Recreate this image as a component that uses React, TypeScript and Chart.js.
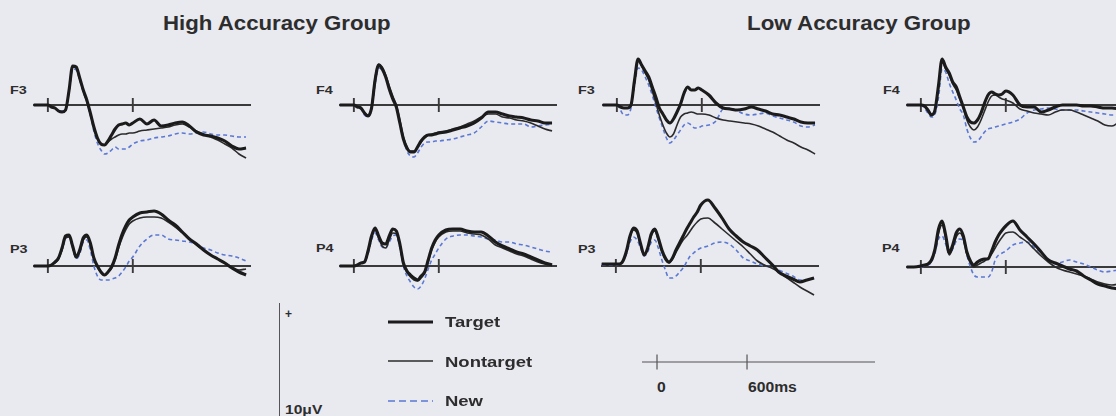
import React, { useEffect, useRef } from "react";
import { Chart, registerables } from "chart.js";
Chart.register(...registerables);

// ---------- data ----------
const timesMs = [-100, -50, 0, 25, 50, 75, 100, 125, 150, 175, 200, 225, 250, 275, 300, 325, 350, 375, 400, 425, 450, 475, 500, 525, 550, 575, 600, 650, 700, 750, 800, 850, 900, 950, 1000, 1050, 1100, 1150, 1200, 1250, 1300, 1350, 1400];
const markerTimes = [0, 600];
const groupTitles = ["High Accuracy Group", "Low Accuracy Group"];
const seriesNames = ["Target", "Nontarget", "New"];
const timeScaleLabels = ["0", "600ms"];
const voltLabel = "10μV";

// values in μV
const highF3Target = [0, 0, 0, -0.2, -0.3, -0.6, -0.7, -0.5, 1.5, 3.9, 3.8, 2.7, 1.5, 0.5, -0.8, -2.2, -3.3, -3.9, -4.0, -3.6, -3.0, -2.4, -2.0, -1.9, -1.8, -2.0, -1.8, -1.4, -1.9, -1.5, -2.1, -2.0, -1.8, -1.7, -2.1, -2.7, -3.0, -3.1, -3.3, -3.6, -4.1, -4.4, -4.3];
const highF3Nontarget = [0, 0, 0, -0.2, -0.3, -0.6, -0.7, -0.5, 1.4, 3.8, 3.7, 2.6, 1.4, 0.4, -0.9, -2.3, -3.4, -3.9, -4.0, -3.7, -3.4, -3.2, -3.0, -2.9, -2.9, -2.8, -2.8, -2.6, -2.5, -2.4, -2.3, -2.2, -2.0, -1.9, -2.2, -2.6, -2.9, -3.2, -3.5, -3.9, -4.3, -4.9, -5.3];
const highF3New = [0, 0, 0, -0.2, -0.3, -0.6, -0.6, -0.5, 1.3, 3.6, 3.5, 2.5, 1.3, 0.3, -1.0, -2.6, -3.8, -4.5, -4.9, -4.8, -4.5, -4.2, -4.4, -4.4, -4.4, -4.2, -3.9, -3.6, -3.5, -3.3, -3.2, -3.1, -2.9, -2.8, -2.9, -2.8, -2.7, -2.9, -3.0, -3.0, -3.1, -3.2, -3.2];

const highF4Target = [0, 0, 0, -0.2, -0.3, -0.8, -1.1, -0.3, 2.5, 4.0, 3.6, 2.8, 1.6, 0.6, -0.2, -1.8, -3.4, -4.3, -4.7, -4.7, -4.2, -3.6, -3.2, -3.0, -3.0, -2.9, -2.8, -2.7, -2.5, -2.3, -2.1, -1.8, -1.3, -0.7, -0.7, -0.9, -1.1, -1.2, -1.3, -1.5, -1.6, -1.8, -1.8];
const highF4Nontarget = [0, 0, 0, -0.2, -0.3, -0.8, -1.0, -0.2, 2.7, 4.1, 3.8, 3.0, 1.9, 0.9, 0.0, -1.5, -3.2, -4.2, -4.6, -4.6, -4.2, -3.7, -3.3, -3.0, -2.9, -2.8, -2.7, -2.6, -2.4, -2.2, -1.9, -1.6, -1.2, -0.9, -0.9, -1.2, -1.3, -1.5, -1.6, -1.8, -2.1, -2.4, -2.6];
const highF4New = [0, 0, 0, -0.3, -0.4, -1.0, -1.2, -0.5, 2.0, 3.7, 3.5, 2.8, 1.6, 0.6, -0.2, -1.8, -3.4, -4.6, -5.1, -5.2, -4.8, -4.2, -3.8, -3.7, -3.7, -3.6, -3.6, -3.5, -3.4, -3.2, -3.0, -2.8, -2.2, -1.6, -1.7, -1.8, -1.9, -1.9, -1.9, -2.2, -2.1, -2.0, -1.9];

const lowF3Target = [0, 0, 0, -0.2, -0.3, -0.3, 0.0, 2.5, 4.6, 4.0, 3.4, 2.8, 1.8, 0.8, -0.3, -0.9, -1.5, -1.8, -1.4, -0.7, 0.1, 1.2, 1.8, 1.5, 1.5, 1.7, 1.5, 1.0, 0.2, -0.3, -0.4, -0.5, -0.4, -0.2, -0.4, -0.6, -0.9, -1.0, -1.2, -1.4, -1.7, -1.8, -1.8];
const lowF3Nontarget = [0, 0, 0, -0.2, -0.3, -0.3, 0.0, 2.3, 4.5, 3.9, 3.2, 2.5, 1.4, 0.2, -1.0, -2.0, -2.8, -3.2, -2.9, -2.0, -1.2, -0.9, -0.8, -0.7, -0.8, -0.9, -0.9, -1.0, -1.3, -1.5, -1.6, -1.7, -1.8, -1.9, -2.1, -2.4, -2.7, -3.1, -3.5, -3.8, -4.2, -4.5, -4.9];
const lowF3New = [0, 0, 0, -0.5, -1.0, -1.0, -0.3, 2.0, 3.7, 3.5, 2.8, 2.0, 1.0, -0.2, -1.3, -2.3, -3.3, -3.8, -3.5, -3.0, -2.5, -2.0, -1.8, -2.0, -2.3, -2.3, -2.1, -2.0, -1.6, -0.4, -0.3, -0.6, -0.9, -1.0, -0.9, -0.8, -1.1, -1.3, -1.5, -1.7, -2.1, -2.2, -2.0];

const lowF4Target = [0, 0, 0, -0.1, -0.5, -1.0, -0.5, 2.0, 4.6, 3.8, 3.2, 2.3, 1.8, 0.8, -0.2, -1.2, -1.7, -1.8, -1.5, -0.8, 0.2, 1.0, 1.3, 1.1, 1.0, 1.1, 1.4, 1.0, 0.0, -0.2, -0.2, -0.7, -0.5, -0.2, 0.0, 0.0, 0.0, -0.1, -0.1, -0.2, -0.3, -0.3, -0.4];
const lowF4Nontarget = [0, 0, 0, -0.1, -0.5, -0.9, -0.5, 1.8, 4.3, 3.6, 3.0, 2.1, 1.5, 0.6, -0.3, -1.5, -2.2, -2.5, -2.2, -1.5, -0.6, 0.3, 0.9, 1.0, 0.8, 0.6, 0.5, 0.2, -0.4, -0.6, -0.8, -0.9, -1.0, -0.7, -0.5, -0.5, -0.7, -1.0, -1.3, -1.6, -2.0, -2.1, -1.7];
const lowF4New = [0, 0, 0, -0.3, -0.8, -1.2, -0.9, 0.8, 3.6, 3.3, 2.2, 1.3, 0.5, -0.4, -1.0, -2.4, -3.3, -3.7, -3.6, -3.2, -2.7, -2.4, -2.3, -2.2, -2.1, -2.0, -1.9, -1.7, -1.4, -0.8, -0.5, -0.4, -0.3, -0.4, -0.5, -0.5, -0.5, -0.6, -0.7, -0.8, -0.9, -1.0, -1.0];

const highP3Target = [0, 0, 0, 0.1, 0.4, 0.8, 1.8, 3.0, 3.1, 2.0, 0.9, 1.6, 2.8, 3.1, 2.3, 0.8, 0.0, -0.6, -0.9, -0.6, -0.1, 0.8, 2.1, 3.2, 4.0, 4.6, 4.9, 5.3, 5.4, 5.5, 5.2, 4.6, 4.1, 3.4, 2.7, 2.2, 1.6, 1.1, 0.7, 0.3, -0.2, -0.6, -0.9];
const highP3Nontarget = [0, 0, 0, 0.1, 0.3, 0.7, 1.6, 2.8, 2.9, 1.9, 0.8, 1.4, 2.6, 2.9, 2.1, 0.7, -0.1, -0.6, -0.9, -0.6, -0.2, 0.6, 1.8, 2.8, 3.6, 4.2, 4.5, 4.8, 4.9, 4.9, 4.8, 4.4, 3.9, 3.3, 2.7, 2.1, 1.6, 1.1, 0.7, 0.3, -0.1, -0.4, -0.3];
const highP3New = [0, 0, 0, 0.1, 0.3, 0.8, 1.6, 2.7, 2.9, 1.8, 0.7, 1.2, 2.4, 2.6, 1.6, 0.0, -1.0, -1.4, -1.4, -1.4, -1.3, -1.2, -1.0, -0.6, -0.1, 0.5, 0.9, 2.0, 2.7, 3.1, 3.1, 2.7, 2.6, 2.5, 2.4, 2.2, 1.8, 1.6, 1.3, 1.1, 1.0, 0.8, 0.5];

const highP4Target = [0, 0, 0, 0.1, 0.3, 0.4, 1.5, 3.0, 3.8, 3.0, 2.3, 2.2, 3.0, 3.7, 3.5, 2.2, 0.3, -0.5, -0.9, -1.2, -1.4, -1.0, -0.6, 0.6, 1.8, 2.6, 3.1, 3.6, 3.7, 3.7, 3.5, 3.4, 3.4, 3.0, 2.4, 2.0, 1.7, 1.4, 1.2, 0.9, 0.6, 0.3, 0.1];
const highP4Nontarget = [0, 0, 0, 0.1, 0.3, 0.4, 1.4, 2.8, 3.6, 2.8, 2.0, 1.8, 2.6, 3.3, 3.2, 2.0, 0.2, -0.6, -1.1, -1.4, -1.5, -1.2, -0.7, 0.4, 1.6, 2.4, 2.9, 3.4, 3.5, 3.5, 3.3, 3.2, 3.1, 2.7, 2.1, 1.8, 1.5, 1.2, 1.0, 0.7, 0.4, 0.2, 0.1];
const highP4New = [0, 0, 0, 0.1, 0.3, 0.4, 1.2, 2.6, 3.3, 2.6, 1.9, 1.8, 2.4, 3.0, 3.1, 1.8, 0.0, -1.0, -1.6, -2.1, -2.3, -2.0, -1.3, -0.3, 0.6, 1.2, 1.8, 2.7, 3.0, 3.1, 3.1, 3.0, 2.9, 2.7, 2.6, 2.4, 2.4, 2.2, 2.1, 1.9, 1.7, 1.5, 1.4];

const lowP3Target = [0.2, 0.2, 0.2, 0.2, 0.5, 1.5, 3.0, 3.8, 3.5, 2.2, 1.1, 1.8, 3.2, 3.7, 2.8, 1.6, 0.8, 0.4, 0.8, 1.6, 2.3, 3.0, 3.7, 4.3, 4.9, 5.4, 6.1, 6.6, 5.8, 4.8, 3.7, 3.0, 2.4, 2.0, 1.6, 0.9, 0.2, -0.6, -1.0, -1.3, -1.6, -1.4, -1.2];
const lowP3Nontarget = [0.2, 0.2, 0.2, 0.2, 0.5, 1.4, 2.9, 3.6, 3.3, 2.1, 1.1, 1.7, 3.0, 3.5, 2.6, 1.4, 0.6, 0.3, 0.7, 1.4, 2.0, 2.6, 3.0, 3.5, 4.0, 4.4, 4.7, 4.8, 4.3, 3.7, 3.1, 2.5, 1.9, 1.2, 0.5, 0.1, -0.2, -0.6, -1.1, -1.6, -2.1, -2.5, -2.9];
const lowP3New = [0.1, 0.1, 0.1, 0.2, 0.5, 1.2, 2.4, 2.9, 2.6, 1.8, 1.0, 1.4, 2.4, 2.6, 1.8, 0.6, -0.4, -1.2, -1.2, -1.0, -0.6, -0.2, 0.4, 1.0, 1.3, 1.6, 1.8, 2.0, 2.3, 2.4, 2.2, 1.6, 0.8, 0.5, 0.2, 0.0, -0.1, -0.4, -0.7, -1.0, -1.4, -1.4, -1.2];

const lowP4Target = [0, 0, 0.1, 0.2, 0.3, 0.7, 1.8, 3.8, 4.6, 3.2, 1.4, 2.2, 3.4, 3.8, 3.1, 1.5, 0.6, 0.2, 0.5, 0.7, 0.8, 0.8, 1.6, 2.5, 3.2, 3.7, 4.1, 4.6, 3.7, 3.0, 2.3, 1.5, 0.7, 0.4, 0.1, -0.2, -0.4, -0.9, -1.3, -1.7, -1.9, -2.1, -2.2];
const lowP4Nontarget = [0, 0, 0.1, 0.2, 0.3, 0.6, 1.6, 3.4, 4.2, 2.9, 1.2, 1.9, 3.0, 3.4, 2.8, 1.3, 0.4, 0.0, 0.2, 0.4, 0.6, 0.9, 1.3, 1.9, 2.5, 3.0, 3.4, 3.5, 3.0, 2.5, 1.8, 1.1, 0.5, 0.0, -0.3, -0.5, -0.7, -0.9, -1.2, -1.5, -1.7, -1.8, -1.7];
const lowP4New = [0, 0, 0, 0.1, 0.2, 0.5, 1.4, 2.8, 3.1, 2.3, 1.4, 1.8, 2.6, 2.8, 2.6, 1.2, 0.0, -0.8, -1.0, -1.0, -1.0, -1.0, -0.5, 0.7, 1.2, 1.4, 1.6, 2.2, 2.4, 2.5, 2.0, 1.4, 0.8, 0.3, 0.5, 0.7, 0.5, 0.3, 0.0, -0.3, -0.5, -0.4, -0.3];

// ---------- layout & style ----------
const BG = "#e9e9f0";
const TEXT = "#2d2d2d";
const AXIS = "#3a3a3a";
const FONT = '"Liberation Sans", Arial, Helvetica, sans-serif';
const SERIES_STYLE = [
  { color: "#1b1b1b", width: 3.1, dash: [] as number[] },
  { color: "#2b2b2b", width: 1.6, dash: [] as number[] },
  { color: "#5b78d2", width: 1.6, dash: [4, 3] },
];
const PX_PER_MS = 85 / 600;
const PX_PER_UV = 10;
const X_MIN = -105;
const X_MAX = 1435;
const ABOVE = 72;
const BELOW = 62;

const panels = [
  { name: "F3", tick0: 48.3, base: 105, labelX: 9.5, labelBase: 95, series: [highF3Target, highF3Nontarget, highF3New] },
  { name: "F4", tick0: 353.5, base: 105, labelX: 316, labelBase: 95, series: [highF4Target, highF4Nontarget, highF4New] },
  { name: "F3", tick0: 616.5, base: 105, labelX: 577.5, labelBase: 95, series: [lowF3Target, lowF3Nontarget, lowF3New] },
  { name: "F4", tick0: 921, base: 105, labelX: 882.5, labelBase: 94.5, series: [lowF4Target, lowF4Nontarget, lowF4New] },
  { name: "P3", tick0: 48.3, base: 265.7, labelX: 9.5, labelBase: 254, series: [highP3Target, highP3Nontarget, highP3New] },
  { name: "P4", tick0: 354, base: 265.7, labelX: 316, labelBase: 252.7, series: [highP4Target, highP4Nontarget, highP4New] },
  { name: "P3", tick0: 616, base: 266, labelX: 577.5, labelBase: 254, series: [lowP3Target, lowP3Nontarget, lowP3New] },
  { name: "P4", tick0: 921, base: 266.7, labelX: 882, labelBase: 253, series: [lowP4Target, lowP4Nontarget, lowP4New] },
];

function makeAxisPlugin(tickHalf: number, lineWidth: number, color: string) {
  return {
    id: "erpAxis",
    beforeDatasetsDraw(chart: any) {
      const { ctx, scales } = chart;
      const x = scales.x;
      const y = scales.y;
      const y0 = y.getPixelForValue(0);
      ctx.save();
      ctx.strokeStyle = color;
      ctx.lineWidth = lineWidth;
      ctx.beginPath();
      ctx.moveTo(x.getPixelForValue(x.min), y0);
      ctx.lineTo(x.getPixelForValue(x.max), y0);
      for (const t of markerTimes) {
        const px = x.getPixelForValue(t);
        ctx.moveTo(px, y0 - tickHalf);
        ctx.lineTo(px, y0 + tickHalf);
      }
      ctx.stroke();
      ctx.restore();
    },
  };
}

function ErpPanel({ panel }: { panel: (typeof panels)[number] }) {
  const ref = useRef<HTMLCanvasElement>(null);
  const width = Math.round((X_MAX - X_MIN) * PX_PER_MS);
  const height = ABOVE + BELOW;
  const left = panel.tick0 + X_MIN * PX_PER_MS;
  const top = panel.base - ABOVE;
  useEffect(() => {
    const chart = new Chart(ref.current as HTMLCanvasElement, {
      type: "line",
      data: {
        datasets: panel.series.map((vals, i) => ({
          label: seriesNames[i],
          data: timesMs.map((t, k) => ({ x: t, y: vals[k] })),
          borderColor: SERIES_STYLE[i].color,
          borderWidth: SERIES_STYLE[i].width,
          borderDash: SERIES_STYLE[i].dash,
          pointRadius: 0,
          fill: false,
          cubicInterpolationMode: "monotone" as const,
          borderJoinStyle: "round" as const,
          clip: false as any,
        })),
      },
      options: {
        animation: false,
        responsive: false,
        maintainAspectRatio: false,
        devicePixelRatio: 1,
        events: [],
        layout: { padding: 0 },
        plugins: { legend: { display: false }, tooltip: { enabled: false } },
        scales: {
          x: { type: "linear", min: X_MIN, max: X_MAX, display: false },
          y: { type: "linear", min: -BELOW / PX_PER_UV, max: ABOVE / PX_PER_UV, display: false },
        },
      },
      plugins: [makeAxisPlugin(7, 1.9, AXIS)],
    });
    return () => chart.destroy();
  }, []);
  return (
    <canvas
      ref={ref}
      width={width}
      height={height}
      style={{ position: "absolute", left, top, width, height }}
    />
  );
}

function TimeScaleBar() {
  const ref = useRef<HTMLCanvasElement>(null);
  const left = 642;
  const width = 233;
  const height = 20;
  const top = 352;
  useEffect(() => {
    const chart = new Chart(ref.current as HTMLCanvasElement, {
      type: "line",
      data: { datasets: [] },
      options: {
        animation: false,
        responsive: false,
        maintainAspectRatio: false,
        devicePixelRatio: 1,
        events: [],
        layout: { padding: 0 },
        plugins: { legend: { display: false }, tooltip: { enabled: false } },
        scales: {
          x: { type: "linear", min: -100, max: 1453, display: false },
          y: { type: "linear", min: -1, max: 1, display: false },
        },
      },
      plugins: [makeAxisPlugin(7.5, 1.2, "#555")],
    });
    return () => chart.destroy();
  }, []);
  return <canvas ref={ref} width={width} height={height} style={{ position: "absolute", left, top, width, height }} />;
}

function Txt({ x, base, size, sx = 1, children }: { x: number; base: number; size: number; sx?: number; children: React.ReactNode }) {
  return (
    <span
      style={{
        position: "absolute",
        left: x,
        top: base - 0.8465 * size,
        fontSize: size,
        lineHeight: `${size}px`,
        fontFamily: FONT,
        fontWeight: 700,
        color: TEXT,
        whiteSpace: "nowrap",
        display: "block",
        transform: `scaleX(${sx})`,
        transformOrigin: "left top",
      }}
    >
      {children}
    </span>
  );
}

const legendRows = [
  { y: 322.3, textBase: 327.3 },
  { y: 361.3, textBase: 366.5 },
  { y: 400.8, textBase: 405.8 },
];

export default function App() {
  return (
    <div
      style={{
        position: "absolute",
        left: 0,
        top: 0,
        width: 1116,
        height: 416,
        background: BG,
        overflow: "hidden",
      }}
    >
      <Txt x={163} base={31} size={19.5} sx={1.14}>{groupTitles[0]}</Txt>
      <Txt x={747} base={31} size={19.5} sx={1.145}>{groupTitles[1]}</Txt>

      {panels.map((p, i) => (
        <React.Fragment key={i}>
          <ErpPanel panel={p} />
          <Txt x={p.labelX} base={p.labelBase} size={11.5} sx={1.25}>{p.name}</Txt>
        </React.Fragment>
      ))}

      {/* voltage scale */}
      <div style={{ position: "absolute", left: 278.8, top: 303, width: 1.4, height: 113, background: "#555" }} />
      <Txt x={285} base={318.5} size={12}>+</Txt>
      <Txt x={285} base={414.5} size={13} sx={1.2}>{voltLabel}</Txt>

      {/* legend */}
      {legendRows.map((row, i) => (
        <React.Fragment key={i}>
          <svg
            width={48}
            height={8}
            style={{ position: "absolute", left: 387, top: row.y - 4 }}
          >
            <line
              x1={1}
              y1={4}
              x2={46}
              y2={4}
              stroke={SERIES_STYLE[i].color}
              strokeWidth={i === 0 ? 2.8 : 1.6}
              strokeDasharray={SERIES_STYLE[i].dash.length ? "7 4" : undefined}
            />
          </svg>
          <Txt x={445} base={row.textBase} size={14} sx={1.32}>{seriesNames[i]}</Txt>
        </React.Fragment>
      ))}

      {/* time scale */}
      <TimeScaleBar />
      <Txt x={657} base={392} size={14} sx={1.12}>{timeScaleLabels[0]}</Txt>
      <Txt x={747.5} base={392} size={14} sx={1.12}>{timeScaleLabels[1]}</Txt>
    </div>
  );
}
